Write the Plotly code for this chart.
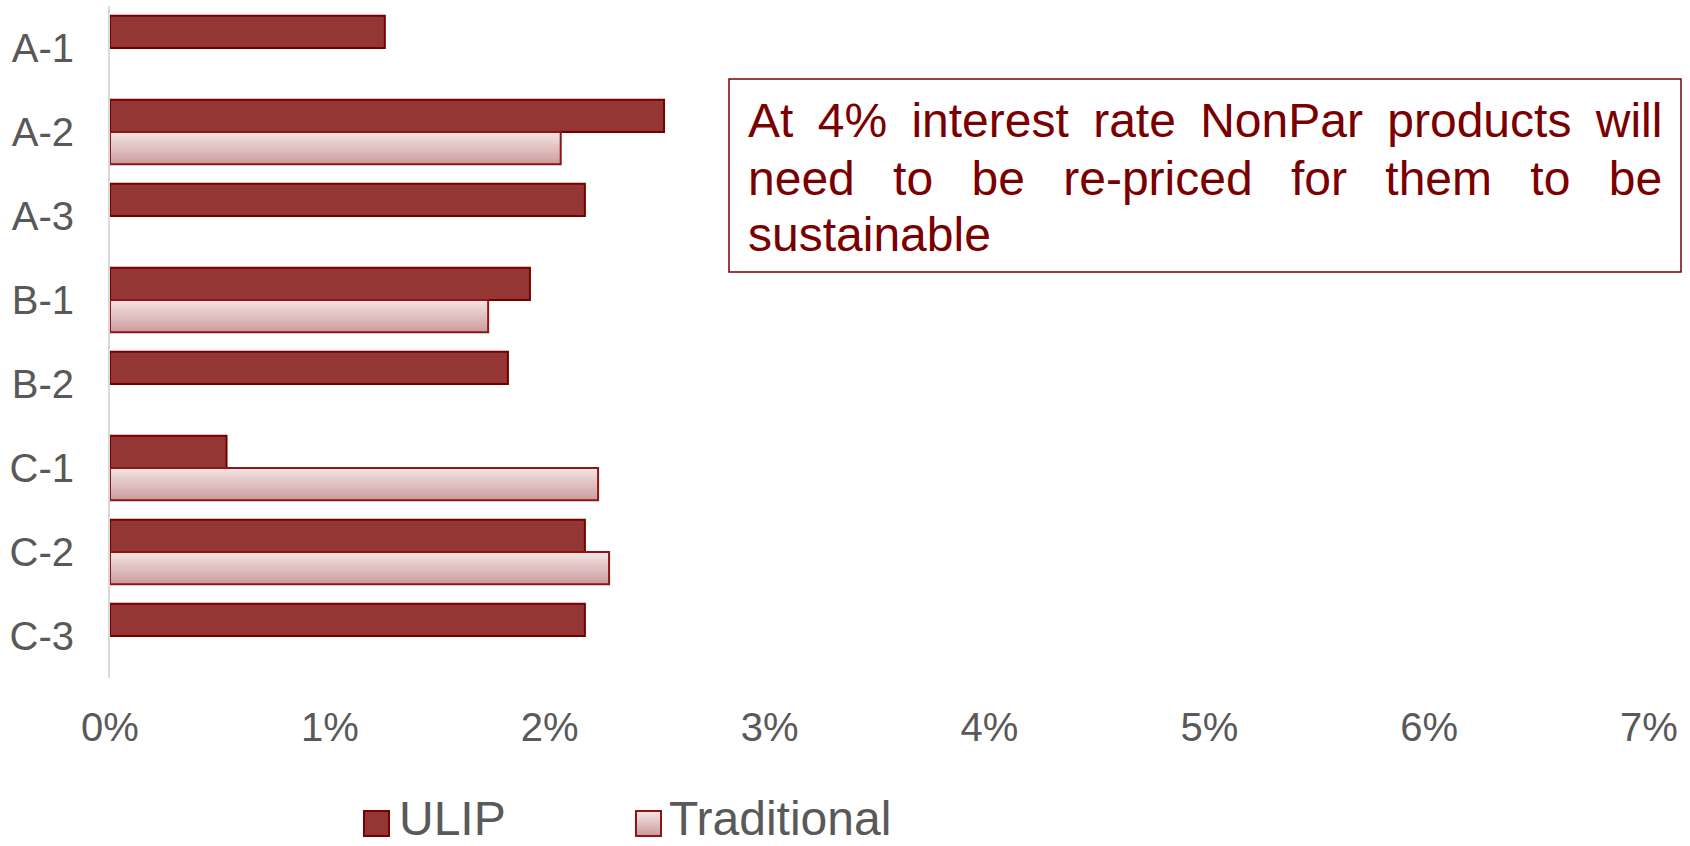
import plotly.graph_objects as go

# Data (interest-rate margin by product, in %)
categories = ["A-1", "A-2", "A-3", "B-1", "B-2", "C-1", "C-2", "C-3"]
ulip = [1.25, 2.52, 2.16, 1.91, 1.81, 0.53, 2.16, 2.16]
traditional = [None, 2.05, None, 1.72, None, 2.22, 2.27, None]
x_ticks = [0, 1, 2, 3, 4, 5, 6, 7]
x_tick_labels = ["0%", "1%", "2%", "3%", "4%", "5%", "6%", "7%"]
series_names = ["ULIP", "Traditional"]

note_lines = [
    "At 4% interest rate NonPar products will",
    "need to be re-priced for them to be",
    "sustainable",
]

# Layout geometry (pixels)
W, H = 1690, 846
M_L, M_R, M_T, M_B = 110, 41, 6, 168
PLOT_W = W - M_L - M_R
PLOT_H = H - M_T - M_B


def px_x(px):
    return (px - M_L) / PLOT_W


def px_y(py):
    return (H - M_B - py) / PLOT_H


FONT = "Liberation Sans, Arial, sans-serif"
GREY = "#595959"
ULIP_FILL = "#943634"
ULIP_LINE = "#760000"
TRAD_LINE = "#8E1515"
TRAD_TOP = (243, 227, 227)
TRAD_BOTTOM = (205, 158, 158)
NOTE_RED = "#7A0000"

BAR_H = 0.385  # bar thickness in category units
N_SLICES = 14


def trad_colour(t):
    c = tuple(round(a + (b - a) * t) for a, b in zip(TRAD_TOP, TRAD_BOTTOM))
    return "rgb(%d,%d,%d)" % c


fig = go.Figure()

fig.add_trace(go.Bar(
    y=categories, x=ulip, orientation="h", name=series_names[0],
    offset=-BAR_H, width=BAR_H,
    marker=dict(color=ULIP_FILL, line=dict(color=ULIP_LINE, width=2)),
))

# Traditional: vertical gradient built from successively shorter layers
# (each layer runs from its start to the bar's bottom edge), then the outline
for i in range(N_SLICES):
    fig.add_trace(go.Bar(
        y=categories, x=traditional, orientation="h", name=series_names[1],
        showlegend=False,
        offset=BAR_H * i / N_SLICES, width=BAR_H * (N_SLICES - i) / N_SLICES,
        marker=dict(color=trad_colour(i / (N_SLICES - 1)), line=dict(width=0)),
        hoverinfo="skip",
    ))
fig.add_trace(go.Bar(
    y=categories, x=traditional, orientation="h", name=series_names[1],
    showlegend=False, offset=0, width=BAR_H,
    marker=dict(color="rgba(0,0,0,0)", line=dict(color=TRAD_LINE, width=2)),
))

# Callout box with justified text
fig.add_shape(
    type="rect", xref="paper", yref="paper",
    x0=px_x(729), x1=px_x(1681), y0=px_y(272), y1=px_y(79),
    line=dict(color=NOTE_RED, width=1.5), fillcolor="rgba(0,0,0,0)",
)
word_spacing = [11, 25, 0]
line_centres = [121, 178, 234]
for text, ws, yc in zip(note_lines, word_spacing, line_centres):
    fig.add_annotation(
        xref="paper", yref="paper", x=px_x(746), y=px_y(yc),
        xanchor="left", yanchor="middle", showarrow=False,
        text='<span style="word-spacing:%dpx">%s</span>' % (ws, text),
        font=dict(family=FONT, size=48, color=NOTE_RED),
    )

# Legend: swatches and labels below the axis
LEG_Y0, LEG_Y1 = 811, 836
legend_items = [
    (series_names[0], 364, 397),
    (series_names[1], 636, 667),
]
for name, sx, tx in legend_items:
    if name == series_names[0]:
        fig.add_shape(
            type="rect", xref="paper", yref="paper",
            x0=px_x(sx), x1=px_x(sx + 25), y0=px_y(LEG_Y1), y1=px_y(LEG_Y0),
            fillcolor=ULIP_FILL, line=dict(color=ULIP_LINE, width=2),
        )
    else:
        n = 8
        step = (LEG_Y1 - LEG_Y0) / n
        for k in range(n):
            fig.add_shape(
                type="rect", xref="paper", yref="paper",
                x0=px_x(sx), x1=px_x(sx + 25),
                y0=px_y(LEG_Y1), y1=px_y(LEG_Y0 + step * k),
                fillcolor=trad_colour(k / (n - 1)), line=dict(width=0),
            )
        fig.add_shape(
            type="rect", xref="paper", yref="paper",
            x0=px_x(sx), x1=px_x(sx + 25), y0=px_y(LEG_Y1), y1=px_y(LEG_Y0),
            fillcolor="rgba(0,0,0,0)", line=dict(color=TRAD_LINE, width=2),
        )
    fig.add_annotation(
        xref="paper", yref="paper", x=px_x(tx), y=px_y(818),
        xanchor="left", yanchor="middle", showarrow=False,
        text=name, font=dict(family=FONT, size=48, color=GREY),
    )

fig.update_layout(
    width=W, height=H,
    margin=dict(l=M_L, r=M_R, t=M_T, b=M_B, pad=0),
    paper_bgcolor="white", plot_bgcolor="white",
    barmode="overlay",
    font=dict(family=FONT, color=GREY),
    showlegend=False,
    xaxis=dict(
        range=[0, 7], tickvals=x_ticks, ticktext=x_tick_labels,
        showgrid=False, zeroline=False, showline=False, ticks="",
        tickfont=dict(family=FONT, size=40, color=GREY),
        ticklabelstandoff=22, fixedrange=True, automargin=False,
    ),
    yaxis=dict(
        categoryorder="array", categoryarray=categories,
        range=[7.5, -0.5], showgrid=False, zeroline=False,
        showline=True, linecolor="#D9D9D9", linewidth=2, ticks="",
        tickfont=dict(family=FONT, size=40, color=GREY),
        ticklabelstandoff=26, fixedrange=True, automargin=False,
    ),
)

fig.write_html("out.html")
